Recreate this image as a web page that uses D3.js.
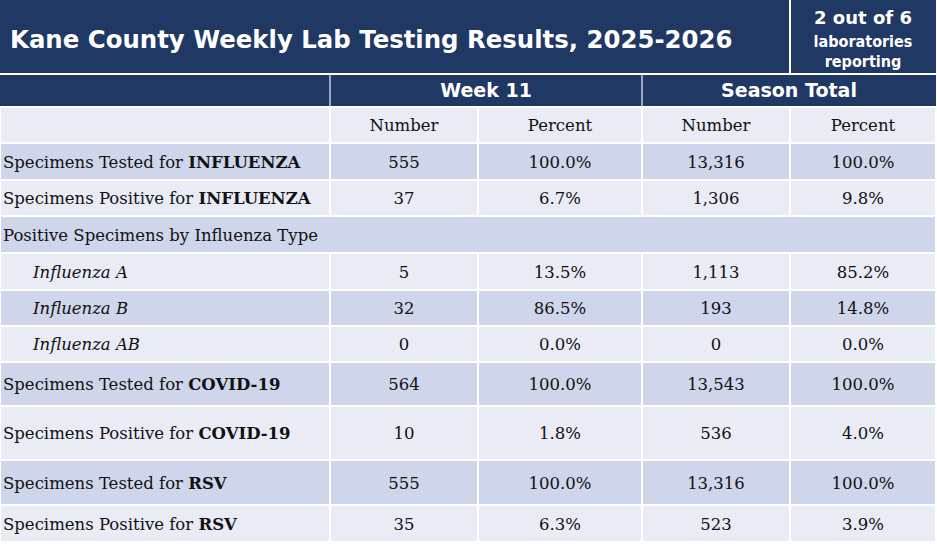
<!DOCTYPE html>
<html><head><meta charset="utf-8">
<script src="https://cdn.jsdelivr.net/npm/d3@7"></script>
<style>body{margin:0;background:#fff}</style>
</head><body>
<script>
var w = 937, h = 544;

var title = "Kane County Weekly Lab Testing Results, 2025-2026";
var labsNote = ["2 out of 6", "laboratories", "reporting"];
var groups = ["Week 11", "Season Total"];
var subHeads = ["Number", "Percent", "Number", "Percent"];

// label: [plain part, bold part, italic flag]
var rowLabels = [
  ["Specimens Tested for ", "INFLUENZA", false],
  ["Specimens Positive for ", "INFLUENZA", false],
  ["Positive Specimens by Influenza Type", "", false],
  ["Influenza A", "", true],
  ["Influenza B", "", true],
  ["Influenza AB", "", true],
  ["Specimens Tested for ", "COVID-19", false],
  ["Specimens Positive for ", "COVID-19", false],
  ["Specimens Tested for ", "RSV", false],
  ["Specimens Positive for ", "RSV", false]
];
var weekNumber  = ["555", "37", "", "5", "32", "0", "564", "10", "555", "35"];
var weekPercent = ["100.0%", "6.7%", "", "13.5%", "86.5%", "0.0%", "100.0%", "1.8%", "100.0%", "6.3%"];
var seasonNumber  = ["13,316", "1,306", "", "1,113", "193", "0", "13,543", "536", "13,316", "523"];
var seasonPercent = ["100.0%", "9.8%", "", "85.2%", "14.8%", "0.0%", "100.0%", "4.0%", "100.0%", "3.9%"];

var rowEdges = [107, 143, 180, 216, 253, 290, 326, 362, 406, 460, 505, 542];
var colEdges = [0, 330, 478, 642, 790, 936];
var navy = "#1f3864", dark = "#cfd5ea", light = "#e9ebf5";

var svg = d3.select("body").append("svg").attr("width", w).attr("height", h);

// title bar
svg.append("rect").attr("x", 0).attr("y", 0).attr("width", 789).attr("height", 73).attr("fill", navy);
svg.append("rect").attr("x", 791).attr("y", 0).attr("width", 145).attr("height", 73).attr("fill", navy);
svg.append("text").attr("x", 10).attr("y", 48).attr("fill", "#fff")
  .style("font", "bold 24.4px 'DejaVu Sans'").text(title);
svg.selectAll(".note").data(labsNote).enter().append("text")
  .attr("x", 863).attr("y", function(d, i){ return [24, 47, 67][i]; })
  .attr("text-anchor", "middle").attr("fill", "#fff")
  .style("font", function(d, i){ return i == 0 ? "bold 18px 'DejaVu Sans'" : "bold 16px 'DejaVu Sans Condensed'"; })
  .text(function(d){ return d; });

// group header row
svg.append("rect").attr("x", 0).attr("y", 75).attr("width", 936).attr("height", 31).attr("fill", navy);
[[330, 642], [642, 936]].forEach(function(s){
  svg.append("line").attr("x1", s[0]).attr("x2", s[0]).attr("y1", 75).attr("y2", 106).attr("stroke", "#c8cde0").attr("stroke-width", 1.5);
});
svg.selectAll(".grp").data(groups).enter().append("text")
  .attr("x", function(d, i){ return i == 0 ? 486 : 789; }).attr("y", 97)
  .attr("text-anchor", "middle").attr("fill", "#fff")
  .style("font", "bold 19px 'DejaVu Sans'").text(function(d){ return d; });

// cell backgrounds
var bands = d3.range(rowEdges.length - 1);
bands.forEach(function(r){
  var y0 = rowEdges[r], y1 = rowEdges[r + 1];
  var fill = r % 2 == 0 ? light : dark;
  var spanAll = r == 3;
  var cols = spanAll ? [[0, 936]] : d3.range(5).map(function(c){ return [colEdges[c], colEdges[c + 1]]; });
  cols.forEach(function(c){
    svg.append("rect").attr("x", c[0] + 1).attr("y", y0 + 1)
      .attr("width", c[1] - c[0] - 2).attr("height", y1 - y0 - 2).attr("fill", fill);
  });
});

var centers = d3.range(4).map(function(c){ return (colEdges[c + 1] + colEdges[c + 2]) / 2; });
var font = "'DejaVu Serif'";

svg.selectAll(".sub").data(subHeads).enter().append("text")
  .attr("x", function(d, i){ return centers[i]; }).attr("y", 131)
  .attr("text-anchor", "middle").attr("fill", "#111")
  .style("font", "16.5px " + font).text(function(d){ return d; });

rowLabels.forEach(function(lab, i){
  var y0 = rowEdges[i + 1], y1 = rowEdges[i + 2];
  var ty = (y0 + y1) / 2 + 6;
  var t = svg.append("text").attr("x", lab[2] ? 33 : 3).attr("y", ty).attr("fill", "#111")
    .style("font", (lab[2] ? "italic " : "") + "16.5px " + font);
  t.append("tspan").text(lab[0]);
  if (lab[1]) t.append("tspan").attr("font-weight", "bold").text(lab[1]);
  [weekNumber, weekPercent, seasonNumber, seasonPercent].forEach(function(col, c){
    svg.append("text").attr("x", centers[c]).attr("y", ty)
      .attr("text-anchor", "middle").attr("fill", "#111")
      .style("font", "16.5px " + font).text(col[i]);
  });
});
</script>
</body></html>
